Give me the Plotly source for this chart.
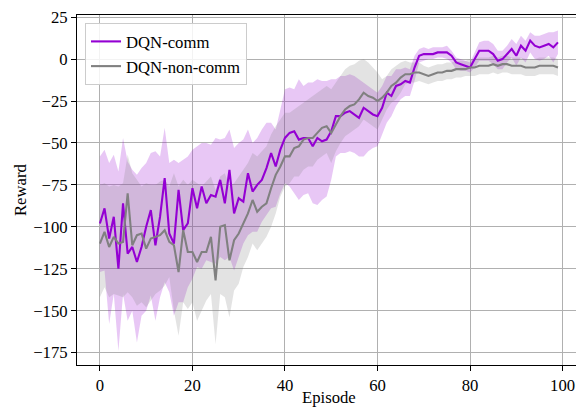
import plotly.graph_objects as go

episodes = list(range(100))

comm_mean = [-98, -89, -107, -94, -125, -86, -116, -112, -121, -112,
             -100, -90, -111, -94, -71, -104, -110, -78, -102, -98,
             -77, -89, -76, -86, -81, -82, -72, -86, -66, -92,
             -83, -85, -68, -79, -75, -72, -65, -56, -64, -54,
             -47, -44, -43, -48, -47, -47, -52, -47, -49, -48,
             -43, -34, -34, -32, -31, -33, -35, -29, -31, -33,
             -34, -29, -20, -22, -16, -15, -13, -14, -5, 2,
             3, 3, 3, 4, 4, 4, 2, -2, -3, -4,
             -5, 0, 5, 5, 5, 3, -1, 0, 3, 6,
             2, 8, 5, 11, 8, 7, 8, 9, 7, 10]

comm_upper = [-58, -54, -62, -57, -67, -47, -61, -66, -69, -65,
              -62, -56, -55, -58, -41, -62, -60, -62, -60, -58,
              -54, -52, -50, -50, -51, -47, -48, -47, -42, -53,
              -50, -48, -42, -50, -47, -42, -38, -38, -42, -30,
              -18, -17, -18, -12, -16, -14, -14, -12, -13, -13,
              -12, -12, -10, -10, -9, -10, -12, -14, -16, -18,
              -20, -16, -10, -10, -6, -6, -5, -6, 2, 6,
              7, 6, 7, 7, 7, 8, 5, 1, 0, -1,
              -2, 4, 10, 11, 11, 9, 5, 5, 8, 12,
              9, 14, 11, 16, 14, 14, 15, 16, 16, 17]

comm_lower = [-127, -126, -158, -140, -174, -140, -156, -150, -169, -153,
              -150, -141, -156, -142, -133, -139, -153, -145, -145, -136,
              -131, -124, -125, -120, -121, -122, -118, -120, -118, -126,
              -118, -110, -105, -103, -103, -97, -93, -89, -88, -80,
              -74, -76, -80, -84, -81, -80, -86, -87, -84, -82,
              -72, -58, -56, -56, -55, -56, -58, -58, -55, -53,
              -52, -45, -38, -34, -28, -24, -22, -22, -13, -2,
              -1, 0, 0, 1, 1, 0, -2, -6, -7, -7,
              -8, -5, -1, -1, -1, -3, -6, -6, -2, 1,
              -4, 1, -2, 4, 0, -1, 0, 2, -2, 3]

noncomm_mean = [-110, -103, -112, -106, -110, -109, -80, -111, -105, -104,
                -113, -107, -106, -105, -102, -109, -111, -127, -102, -115,
                -115, -121, -115, -115, -106, -132, -100, -99, -120, -108,
                -104, -98, -92, -84, -91, -88, -86, -77, -69, -64,
                -58, -58, -53, -52, -48, -47, -47, -44, -41, -40,
                -44, -39, -34, -30, -28, -27, -24, -20, -22, -23,
                -25, -23, -20, -16, -14, -11, -9, -9, -8, -8,
                -9, -10, -9, -8, -8, -7, -7, -6, -6, -6,
                -5, -5, -4, -4, -4, -3, -4, -3, -3, -4,
                -4, -4, -5, -5, -5, -4, -4, -4, -4, -5]

noncomm_upper = [-75, -74, -76, -75, -76, -74, -57, -68, -72, -76,
                 -74, -75, -75, -73, -72, -76, -68, -76, -72, -75,
                 -72, -74, -76, -73, -70, -78, -70, -68, -76, -74,
                 -70, -66, -62, -56, -58, -55, -52, -45, -40, -36,
                 -32, -32, -30, -28, -26, -24, -22, -20, -18, -16,
                 -18, -14, -10, -6, -4, -3, -1, 0, -2, -5,
                 -8, -12, -10, -6, -4, -2, -1, -2, -2, -2,
                 -4, -5, -4, -3, -3, -2, -2, -1, -1, -1,
                 0, 0, 1, 1, 1, 2, 1, 2, 2, 1,
                 1, 1, 0, 0, 0, 1, 1, 1, 1, 0]

noncomm_lower = [-142, -136, -142, -140, -141, -142, -139, -142, -147, -145,
                 -148, -144, -140, -138, -135, -130, -150, -165, -145, -149,
                 -145, -156, -150, -144, -140, -170, -140, -142, -154, -138,
                 -134, -124, -118, -110, -114, -110, -106, -100, -92, -82,
                 -76, -74, -70, -70, -66, -64, -64, -60, -58, -56,
                 -62, -55, -50, -46, -44, -42, -40, -36, -38, -40,
                 -42, -36, -30, -26, -24, -20, -15, -14, -14, -13,
                 -14, -15, -14, -13, -13, -12, -12, -11, -11, -10,
                 -10, -10, -9, -9, -9, -8, -9, -8, -8, -9,
                 -9, -9, -10, -10, -10, -9, -9, -9, -9, -10]

x_ticks = [0, 20, 40, 60, 80, 100]
y_ticks = [-175, -150, -125, -100, -75, -50, -25, 0, 25]
series_names = ["DQN-comm", "DQN-non-comm"]
x_title = "Episode"
y_title = "Reward"

PURPLE = "#9400D3"
PURPLE_FILL = "rgba(148,0,211,0.22)"
GRAY = "#808080"
GRAY_FILL = "rgba(128,128,128,0.22)"
FONT = "'Liberation Serif', 'Times New Roman', serif"
FS = 16.7

fig = go.Figure()

# bands
fig.add_trace(go.Scatter(x=episodes, y=comm_upper, mode="lines", line=dict(width=0),
                         showlegend=False, hoverinfo="skip"))
fig.add_trace(go.Scatter(x=episodes, y=comm_lower, mode="lines", line=dict(width=0),
                         fill="tonexty", fillcolor=PURPLE_FILL, showlegend=False, hoverinfo="skip"))
fig.add_trace(go.Scatter(x=episodes, y=noncomm_upper, mode="lines", line=dict(width=0),
                         showlegend=False, hoverinfo="skip"))
fig.add_trace(go.Scatter(x=episodes, y=noncomm_lower, mode="lines", line=dict(width=0),
                         fill="tonexty", fillcolor=GRAY_FILL, showlegend=False, hoverinfo="skip"))

# mean lines
fig.add_trace(go.Scatter(x=episodes, y=comm_mean, mode="lines", name=series_names[0],
                         line=dict(color=PURPLE, width=2.1)))
fig.add_trace(go.Scatter(x=episodes, y=noncomm_mean, mode="lines", name=series_names[1],
                         line=dict(color=GRAY, width=2.1)))

axis_common = dict(ticks="outside", ticklen=5, tickwidth=1, tickcolor="black",
                   showgrid=True, gridcolor="#b0b0b0", gridwidth=1.1,
                   showline=True, linecolor="black", linewidth=1, zeroline=False,
                   automargin=False, tickfont=dict(family=FONT, size=FS, color="black"))

fig.update_layout(
    width=576, height=408,
    margin=dict(l=77, r=0, t=15, b=43, autoexpand=False),
    paper_bgcolor="white", plot_bgcolor="white",
    font=dict(family=FONT, size=FS, color="black"),
    legend=dict(x=0.016, y=0.977, xanchor="left", yanchor="top", traceorder="normal",
                bgcolor="rgba(255,255,255,0.85)", bordercolor="#cccccc", borderwidth=1,
                font=dict(family=FONT, size=FS)),
    xaxis=dict(range=[-4.95, 102.9], tickvals=x_ticks, mirror=True, **axis_common),
    yaxis=dict(range=[-182.4, 26.3], tickvals=y_ticks, mirror=False, **axis_common),
    annotations=[
        dict(text=x_title, xref="paper", yref="paper", x=0.505, y=-0.094,
             xanchor="center", yanchor="middle", showarrow=False,
             font=dict(family=FONT, size=FS)),
        dict(text=y_title, xref="paper", yref="paper", x=-0.114, y=0.5,
             xanchor="center", yanchor="middle", textangle=-90, showarrow=False,
             font=dict(family=FONT, size=FS)),
    ],
)

fig.write_html(
    "out.html",
    config={"displayModeBar": False},
    post_script="document.body.style.margin='0';document.body.style.padding='0';"
                "document.documentElement.style.margin='0';",
)
